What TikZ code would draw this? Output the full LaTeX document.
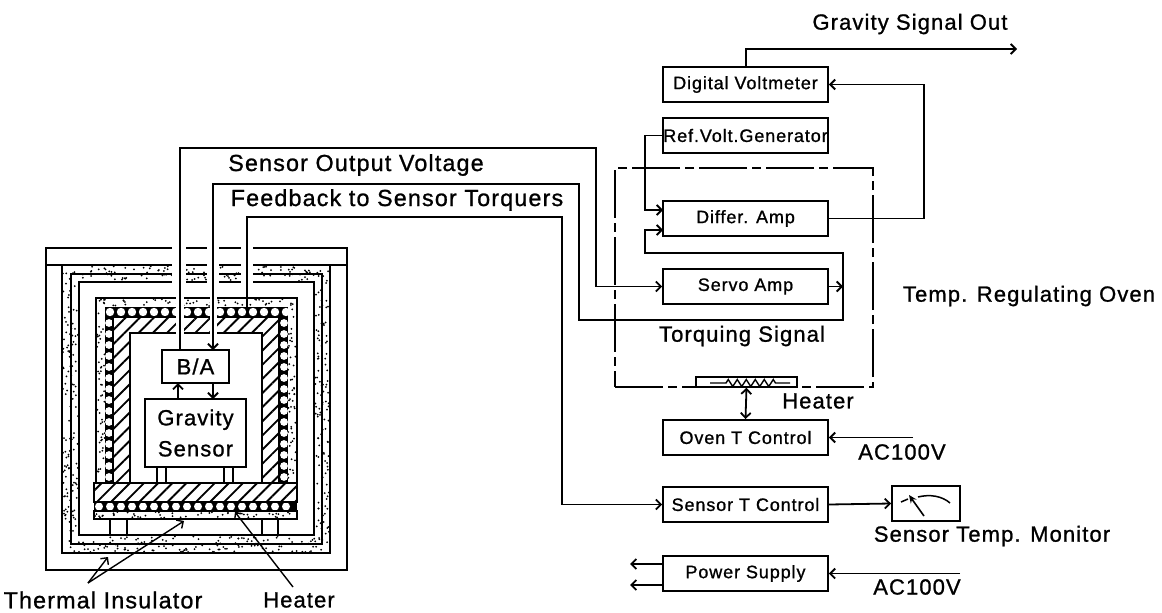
\documentclass[tikz,border=0pt]{standalone}
\usepackage{fontspec}
\setmainfont[LetterSpace=5,FakeBold=1]{Liberation Sans}
\usetikzlibrary{arrows.meta, patterns.meta, decorations.pathmorphing}

% random dots for the insulator layers
\newcommand{\stipple}[5]{%
  \foreach \k in {1,...,#5}{%
    \pgfmathsetmacro\dotx{#1+rnd*(#3-#1)}%
    \pgfmathsetmacro\doty{#2+rnd*(#4-#2)}%
    \fill (\dotx,\doty) circle (1);
  }%
}

\begin{document}
\begin{tikzpicture}[
    x=1pt, y=-1pt,
    box/.style={draw, line width=1.9pt, minimum width=165, minimum height=35, inner sep=0pt, font=\fontsize{18}{20}\selectfont},
    caption/.style={inner sep=0pt, font=\fontsize{22}{24}\selectfont},
    wire_caption/.style={inner sep=0pt, font=\fontsize{23.3}{25}\selectfont},
    arrow/.style={->, >={Straight Barb[length=5pt,width=10pt]}, line width=1.8pt},
    wall/.style={line width=1.7pt},
    hatching/.style={pattern={Lines[angle=45,distance=10pt,line width=1.9pt]}},
    oven_line/.style={line width=1.8pt, dash pattern=on 48pt off 5pt on 9pt off 5pt}
]
\pgfmathsetseed{4217}
\useasboundingbox (0,0) rectangle (1162,613);

% Outer case and lid
\draw[wall] (46,248) rectangle (347,570);
\draw[wall] (46,265) -- (347,265);

% Outer insulator
\draw[wall] (62,265) rectangle (330,553);
\draw[wall] (71,274) rectangle (322,544);
\draw[wall, fill=white] (79,282) rectangle (314,535);
\stipple{62}{266}{330}{281}{130}
\stipple{62}{536}{330}{552}{130}
\stipple{63}{282}{78}{535}{120}
\stipple{315}{282}{329}{535}{110}

% Legs under the inner block
\draw[wall] (110,519) -- (110,535) (127,519) -- (127,535);
\draw[wall] (262,519) -- (262,535) (278,519) -- (278,535);

% Inner insulator, heater ring, hatched block
\draw[wall] (96,298) rectangle (297,483);
\stipple{97}{299}{296}{306}{55}
\stipple{97}{307}{105}{483}{50}
\stipple{288}{307}{296}{483}{50}
\fill (105,307) rectangle (288,483);
\foreach \cx in {110,121,...,288} {\fill[white] (\cx,312) circle (4.2);}
\foreach \cy in {323,334,...,480} {
  \fill[white] (109,\cy) circle (3.9);
  \fill[white] (284,\cy) circle (3.9);
}
\draw[wall, fill=white] (113,317) rectangle (279,483);
\fill[hatching] (113,317) rectangle (279,483);
\draw[wall, fill=white] (130,333) rectangle (262,483);

% Bottom stack
\draw[wall, fill=white] (94,483) rectangle (297,502);
\fill[hatching] (94,483) rectangle (297,502);
\fill (94,502) rectangle (297,511);
\foreach \cx in {99,110,...,292} {\fill[white] (\cx,506.5) circle (4);}
\draw[wall, fill=white] (94,511) rectangle (297,519);
\stipple{95}{512}{296}{518}{50}
\draw[wall] (94,502) -- (297,502) (94,511) -- (297,511);

% Openings for the wires
\fill[white] (172,245) rectangle (186,292);
\fill[white] (207,245) rectangle (219,292);
\fill[white] (241,245) rectangle (253,292);
\fill[white] (176,292) rectangle (184,335);
\fill[white] (210,292) rectangle (217,335);

% Legs under the sensor
\draw[wall] (157,467) -- (157,483) (166,467) -- (166,483);
\draw[wall] (224,467) -- (224,483) (233,467) -- (233,483);

% Sensor blocks
\node[box, minimum width=67, minimum height=33, font=\fontsize{22}{24}\selectfont] (ba) at (195.5,366.5) {B/A};
\node[box, minimum width=101, minimum height=68, fill=white, font=\fontsize{22}{31}\selectfont, align=center] (gravity_sensor) at (195.5,433) {Gravity\\Sensor};

% Electronics
\node[box] (voltmeter)   at (745.5,84.5)  {Digital Voltmeter};
\node[box] (ref_gen)     at (745.5,135.5) {Ref.Volt.Generator};
\node[box] (differ_amp)  at (745.5,218.5) {Differ. Amp};
\node[box] (servo_amp)   at (745.5,286.5) {Servo Amp};
\node[box] (oven_ctrl)   at (745.5,437.5) {Oven T Control};
\node[box] (sensor_ctrl) at (745.5,504.5) {Sensor T Control};
\node[box] (power)       at (745.5,573.5) {Power Supply};
\node[box, minimum width=68] (monitor) at (926,503.5) {};

% Oven boundary and its heater
\node[oven_line, draw, minimum width=258, minimum height=219, inner sep=0pt] (oven) at (744,277.5) {};
\node[line width=1.5pt, draw, minimum width=101, minimum height=10, inner sep=0pt] (oven_heater) at (746.5,382) {};
\draw[line width=1.4pt] (710,383) -- (726,383) decorate[decoration={zigzag, segment length=9pt, amplitude=3.5pt}] {-- (776,383)} -- (790,383);

% Meter face
\draw[line width=1.5pt] (901,502) -- (908,499);
\draw[line width=1.5pt] (918,497) .. controls (930,494) and (942,496) .. (950,503);
\draw[-{Stealth[length=8pt,width=7pt]}, line width=1.6pt] (924,516) -- (909,495);

% Labels
\node[caption] (signal_out)  at (910,24)   {Gravity Signal Out};
\node[wire_caption] (output_volt) at (356,165)  {Sensor Output Voltage};
\node[wire_caption] (feedback)    at (397,200)  {Feedback to Sensor Torquers};
\node[caption] (regulating)  at (1029,296) {Temp. Regulating Oven};
\node[caption] (torquing)    at (742,336)  {Torquing Signal};
\node[caption] (oven_heat)   at (818,401)  {Heater};
\node[caption] (ac_oven)     at (902,452)  {AC100V};
\node[caption] (ac_power)    at (917,587)  {AC100V};
\node[caption] (temp_mon)    at (992,536)  {Sensor Temp. Monitor};
\node[wire_caption] (insulator)   at (103,600)  {Thermal Insulator};
\node[caption] (heater_lbl)  at (299,600)  {Heater};

% Free ends and corners
\coordinate (ba_left)    at (180,350);
\coordinate (ba_right)   at (213,350);
\coordinate (wire_heat)  at (247,307);
\coordinate (corner_out) at (596,148);
\coordinate (corner_fb)  at (579,184);
\coordinate (corner_ht)  at (562,217);
\coordinate (loop_low)   at (843,320);
\coordinate (loop_high)  at (843,253);
\coordinate (torq_tap)   at (843,286.5);
\coordinate (ref_bus)    at (645,210);
\coordinate (diff_in1)   at (663,210);
\coordinate (diff_in2)   at (663,230);
\coordinate (fb_bus)     at (645,230);
\coordinate (out_end)    at (1017,49);
\coordinate (out_start)  at (746,67);
\coordinate (dvm_bus)    at (924,84.5);
\coordinate (ac_oven_in) at (913,437.5);
\coordinate (ac_power_in) at (960,573.5);
\coordinate (ps_start1)  at (663,564);
\coordinate (ps_end1)    at (630,564);
\coordinate (ps_start2)  at (663,585);
\coordinate (ps_end2)    at (630,585);
\coordinate (sens_up)    at (178,399);
\coordinate (sens_upb)   at (178,383);
\coordinate (sens_dn)    at (213,383);
\coordinate (sens_dnb)   at (213,399);

% Sensor connections
\draw[arrow] (sens_up) -- (sens_upb);
\draw[arrow] (sens_dn) -- (sens_dnb);

% Long wires
\draw[arrow] (ba_left) |- (corner_out) |- (servo_amp.west);
\draw[arrow] (torq_tap) |- (loop_high) -| (fb_bus) -- (diff_in2);
\draw[arrow] (torq_tap) -- (loop_low) -| (corner_fb) -| (ba_right);
\draw[arrow] (wire_heat) |- (corner_ht) |- (sensor_ctrl.west);

% Right hand side
\draw[arrow] (servo_amp.east) -- (torq_tap);
\draw[arrow] (ref_gen.west) -| (ref_bus) -- (diff_in1);
\draw[arrow] (differ_amp.east) -| (dvm_bus) -- (voltmeter.east);
\draw[arrow] (out_start) |- (out_end);
\draw[arrow, <->] (oven_heater.south) -- (oven_ctrl.north);
\draw[arrow] (ac_oven_in) -- (oven_ctrl.east);
\draw[arrow] (ac_power_in) -- (power.east);
\draw[arrow] (sensor_ctrl.east) -- (monitor.west);
\draw[arrow] (ps_start1) -- (ps_end1);
\draw[arrow] (ps_start2) -- (ps_end2);

% Pointers from the bottom labels
\coordinate (ins_tail)  at (88,583);
\coordinate (ins_head1) at (108,557);
\coordinate (ins_head2) at (184,521);
\coordinate (heat_tail) at (293,587);
\coordinate (heat_head) at (235,512);
\draw[arrow, line width=1.4pt] (ins_tail) -- (ins_head1);
\draw[arrow, line width=1.4pt] (ins_tail) -- (ins_head2);
\draw[arrow, line width=1.4pt] (heat_tail) -- (heat_head);

\end{tikzpicture}
\end{document}
